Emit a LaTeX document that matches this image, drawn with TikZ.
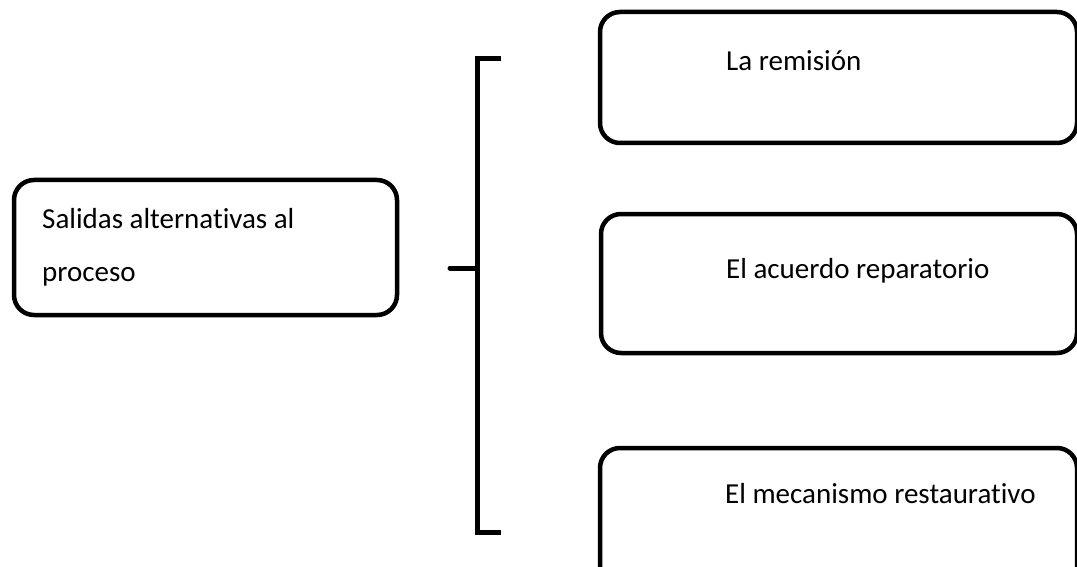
\documentclass[tikz,border=0pt]{standalone}
\usepackage{fontspec}
\setmainfont[Ligatures=NoCommon]{Carlito}
\begin{document}
\begin{tikzpicture}[x=1pt,y=-1pt,
  box/.style={draw=black,line width=4.5pt,rounded corners=20pt,anchor=north west,inner sep=0pt,outer sep=0pt},
  lbl/.style={anchor=base west,inner sep=0pt,font=\fontsize{29}{43}\selectfont},
  brk/.style={draw=black,line width=5pt}]
\useasboundingbox (0,0) rectangle (1077,567);
\clip (0,0) rectangle (1077,567);
\fill[white] (0,0) rectangle (1077,567);
% boxes
\node[box,minimum width=383pt,minimum height=135pt] (main) at (14,180) {};
\node[box,minimum width=477pt,minimum height=131pt] (b1) at (600,12) {};
\node[box,minimum width=476pt,minimum height=139pt] (b2) at (601,214) {};
\node[box,minimum width=477pt,minimum height=140pt] (b3) at (600,448) {};
% texts
\node[lbl] (t0a) at (42,229) {Salidas alternativas al};
\node[lbl] (t0b) at (42,281) {proceso};
\node[lbl] (t1) at (726,71) {La remisión};
\node[lbl] (t2) at (726,278) {El acuerdo reparatorio};
\node[lbl] (t3) at (725,503) {El mecanismo restaurativo};
% bracket
\coordinate (bt) at (501,59);
\coordinate (bv1) at (477,59);
\coordinate (bv2) at (477,532);
\coordinate (bb) at (501,532);
\coordinate (bm) at (477,268);
\coordinate (bs) at (450,268);
\draw[brk,line join=miter] (bt) -- (bv1) -- (bv2) -- (bb);
\draw[brk,line cap=round] (bs) -- (bm);
\end{tikzpicture}
\end{document}
